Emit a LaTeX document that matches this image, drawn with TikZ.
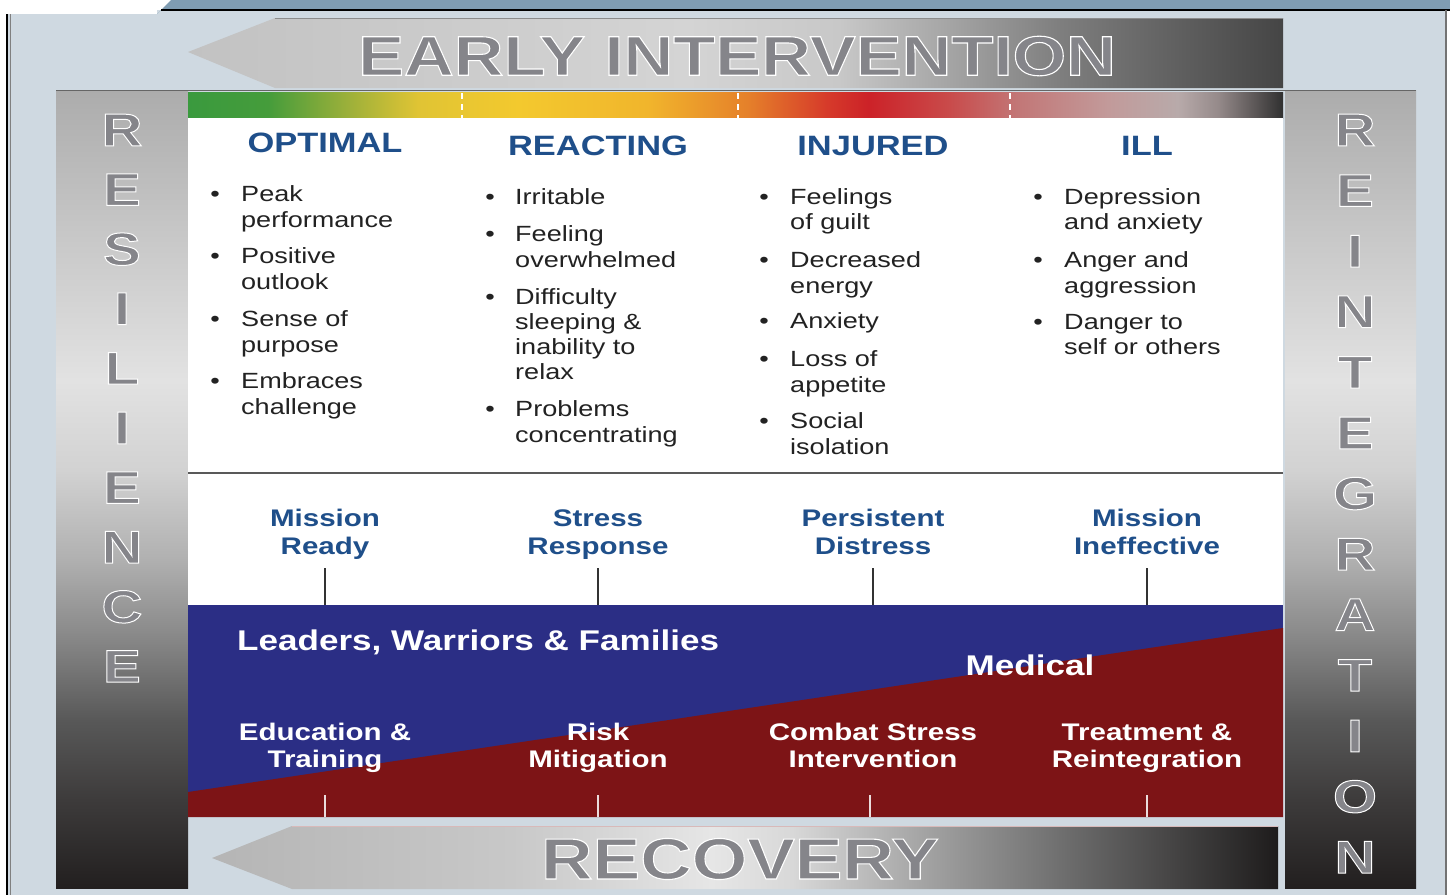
\documentclass[tikz,border=0pt]{standalone}
\usepackage{fontspec}
\setmainfont{Liberation Sans}[FakeStretch=1.23]
\definecolor{panel}{HTML}{CFD9E1}
\definecolor{steel}{HTML}{7F9CB2}
\definecolor{hdrblue}{HTML}{1F4F8A}
\definecolor{txt}{HTML}{222222}
\definecolor{navy}{HTML}{2B2E85}
\definecolor{maroon}{HTML}{7D1416}
\definecolor{lettergray}{HTML}{85858A}
% colour bar
\definecolor{cb0}{HTML}{3A9A3E}\definecolor{cb1}{HTML}{459C3B}\definecolor{cb2}{HTML}{9CB03A}
\definecolor{cb3}{HTML}{E0C434}\definecolor{cb4}{HTML}{F3C92E}\definecolor{cb5}{HTML}{F1B52C}
\definecolor{cb6}{HTML}{E5802A}\definecolor{cb7}{HTML}{D63A2A}\definecolor{cb8}{HTML}{CC2228}
\definecolor{cb9}{HTML}{C94A4A}\definecolor{cb10}{HTML}{C27777}\definecolor{cb11}{HTML}{C29A9A}
\definecolor{cb12}{HTML}{B8AAAA}\definecolor{cb13}{HTML}{958A8A}\definecolor{cb14}{HTML}{303030}
\pgfdeclarehorizontalshading{colorbar}{100bp}{color(0bp)=(cb0); color(25bp)=(cb0); color(28.65bp)=(cb1);
 color(32.3bp)=(cb2); color(35.5bp)=(cb3); color(40.07bp)=(cb4); color(46bp)=(cb5); color(50.57bp)=(cb6);
 color(54.2bp)=(cb7); color(56.05bp)=(cb8); color(59.7bp)=(cb9); color(62.9bp)=(cb10); color(67bp)=(cb11);
 color(70.2bp)=(cb12); color(72.03bp)=(cb13); color(75bp)=(cb14); color(100bp)=(cb14)}
% side bars
\definecolor{sb0}{HTML}{221F1F}\definecolor{sb1}{HTML}{3D3B3B}\definecolor{sb2}{HTML}{585858}
\definecolor{sb3}{HTML}{868686}\definecolor{sb4}{HTML}{B0B0B0}\definecolor{sb5}{HTML}{D2D2D2}
\definecolor{sb6}{HTML}{E2E2E2}\definecolor{sb7}{HTML}{CACACA}\definecolor{sb8}{HTML}{ACACAC}
\pgfdeclareverticalshading{sidebar}{100bp}{color(0bp)=(sb0); color(25bp)=(sb0); color(30.5bp)=(sb1);
 color(35.5bp)=(sb2); color(40.5bp)=(sb3); color(45.55bp)=(sb4); color(51.2bp)=(sb5); color(56.8bp)=(sb6);
 color(65bp)=(sb7); color(75bp)=(sb8); color(100bp)=(sb8)}
% top arrow
\definecolor{ta0}{HTML}{C2C2C2}\definecolor{ta1}{HTML}{D4D4D4}\definecolor{ta2}{HTML}{C8C8C8}
\definecolor{ta3}{HTML}{A5A5A5}\definecolor{ta4}{HTML}{7F7F7F}\definecolor{ta5}{HTML}{626262}
\definecolor{ta6}{HTML}{454545}
\pgfdeclarehorizontalshading{toparrow}{100bp}{color(0bp)=(ta0); color(25bp)=(ta0); color(47.8bp)=(ta1);
 color(54.7bp)=(ta2); color(59.7bp)=(ta3); color(64.7bp)=(ta4); color(69.75bp)=(ta5); color(75bp)=(ta6);
 color(100bp)=(ta6)}
% bottom arrow
\definecolor{ba0}{HTML}{B5B5B5}\definecolor{ba1}{HTML}{C8C8C8}\definecolor{ba2}{HTML}{E6E6E6}
\definecolor{ba3}{HTML}{D8D8D8}\definecolor{ba4}{HTML}{A0A0A0}\definecolor{ba5}{HTML}{6E6E6E}
\definecolor{ba6}{HTML}{1E1C1C}
\pgfdeclarehorizontalshading{botarrow}{100bp}{color(0bp)=(ba0); color(25bp)=(ba0); color(39.1bp)=(ba1);
 color(48.45bp)=(ba2); color(52.2bp)=(ba3); color(58.8bp)=(ba4); color(64.9bp)=(ba5); color(75bp)=(ba6);
 color(100bp)=(ba6)}

% gray letters with a white outline: text render mode 2 (fill, then stroke in white)
\newcommand\olt[2]{\special{pdf:literal direct 2 Tr #1 w 1 1 1 RG}#2}

\tikzset{
 body/.style={font=\fontsize{22}{25}\selectfont, text=txt, inner sep=0pt},
 hdr/.style={font=\fontsize{28}{30}\selectfont\bfseries, text=hdrblue, inner sep=0pt},
 midlbl/.style={font=\fontsize{24}{28}\selectfont\bfseries, text=hdrblue, inner sep=0pt},
 wlbl/.style={font=\fontsize{24}{28}\selectfont\bfseries, text=white, inner sep=0pt},
 wbig/.style={font=\fontsize{28.5}{30}\selectfont\bfseries, text=white, inner sep=0pt},
 sideletter/.style={font=\fontsize{46}{46}\selectfont\bfseries, text=lettergray, inner sep=0pt},
 bigtxt/.style={font=\fontsize{56}{60}\selectfont\bfseries, text=lettergray, inner sep=0pt},
 recovtxt/.style={font=\fontsize{58}{60}\selectfont\bfseries, text=lettergray, inner sep=0pt},
 darktick/.style={line width=2.5pt, draw=black!80},
 lighttick/.style={line width=2pt, draw=white!85!maroon},
}

\begin{document}
\begin{tikzpicture}[x=1pt,y=-1pt]
\useasboundingbox (0,0) rectangle (1450,895);
% frame
\fill[white] (0,0) rectangle (1450,895);
\fill[panel] (8,10) rectangle (1446,895);
\fill[white] (0,0) rectangle (157,14);
\fill[steel] (157,14) -- (171,0) -- (1450,0) -- (1450,10) -- (161,10) -- cycle;
\draw[black, line width=2pt] (161,10) -- (1450,10);
\draw[black, line width=1.2pt] (7,14) -- (7,895);
\draw[black!50, line width=1pt] (10,14) -- (10,895);
\draw[black!55, line width=1.5pt] (1446,10) -- (1446,895);

% top arrow
\path[shading=toparrow] (188,52) -- (275,18) -- (1283,18) -- (1283,88) -- (275,88) -- cycle;
\draw[black!45, line width=1pt] (275,18) -- (1283,18);
\node[bigtxt] (early) at (737,56) {\olt{1.1}{EARLY INTERVENTION}};

% side bars
\path[shading=sidebar] (56,90) rectangle (188,888);
\path[shading=sidebar] (1285,90) rectangle (1416,888);
\draw[black!60, line width=1pt] (56,90) -- (1416,90);
\foreach \L [count=\i] in {R,E,S,I,L,I,E,N,C,E}
 {\node[sideletter] (res\i) at (122,{130+59.6*(\i-1)}) {\olt{1}{\L}};}
\foreach \L [count=\i] in {R,E,I,N,T,E,G,R,A,T,I,O,N}
 {\node[sideletter] (rei\i) at (1355,{130+60.6*(\i-1)}) {\olt{1}{\L}};}

% colour bar
\path[shading=colorbar] (188,92) rectangle (1283,118);
\foreach \px in {462,738,1010}{\draw[white, line width=2pt, dash pattern=on 6pt off 5pt] (\px,93) -- (\px,118);}

% white panel
\fill[white] (188,118) rectangle (1283,605);
\draw[black!65, line width=1.5pt] (188,473) -- (1283,473);

\node[hdr] (h1) at (325,143) {OPTIMAL};
\node[hdr] (h2) at (598,146) {REACTING};
\node[hdr] (h3) at (873,146) {INJURED};
\node[hdr] (h4) at (1147,146) {ILL};

\foreach \px/\py/\tx [count=\i] in {
 241/201/Peak, 241/227/performance, 241/263/Positive, 241/289/outlook, 241/326/Sense of, 241/352/purpose,
 241/388/Embraces, 241/414/challenge,
 515/204/Irritable, 515/241/Feeling, 515/267/overwhelmed, 515/304/Difficulty, 515/329/sleeping \&,
 515/354/inability to, 515/379/relax, 515/416/Problems, 515/442/concentrating,
 790/204/Feelings, 790/229/of guilt, 790/267/Decreased, 790/293/energy, 790/328/Anxiety, 790/366/Loss of,
 790/392/appetite, 790/428/Social, 790/454/isolation,
 1064/204/Depression, 1064/229/and anxiety, 1064/267/Anger and, 1064/293/aggression, 1064/329/Danger to,
 1064/354/self or others}
 {\node[body, anchor=base west] (line\i) at (\px,\py) {\tx};}
\foreach \px/\py [count=\i] in {215/201, 215/263, 215/326, 215/388, 490/204, 490/241, 490/304, 490/416,
 764/204, 764/267, 764/328, 764/366, 764/428, 1038/204, 1038/267, 1038/329}
 {\node[body, anchor=base] (bul\i) at (\px,\py) {\textbullet};}

% stage labels
\foreach \px/\ta/\tb [count=\i] in {325/Mission/Ready, 598/Stress/Response, 873/Persistent/Distress, 1147/Mission/Ineffective}{
 \node[midlbl, anchor=base] (st\i a) at (\px,526) {\ta};
 \node[midlbl, anchor=base] (st\i b) at (\px,554) {\tb};
 \coordinate (mt\i) at (\px,568);
 \coordinate (mb\i) at (\px,605);
 \draw[darktick] (mt\i) -- (mb\i);
}

% blue / red band
\fill[navy] (188,605) rectangle (1283,817);
\fill[maroon] (188,792) -- (1283,628) -- (1283,817) -- (188,817) -- cycle;
\node[wbig, anchor=base west] (lwf) at (237,650) {Leaders, Warriors \& Families};
\node[wbig, anchor=base] (med) at (1030,675) {Medical};
\foreach \px/\ta/\tb [count=\i] in {325/Education \&/Training, 598/Risk/Mitigation, 873/Combat Stress/Intervention, 1147/Treatment \&/Reintegration}{
 \node[wlbl, anchor=base] (ac\i a) at (\px,740) {\ta};
 \node[wlbl, anchor=base] (ac\i b) at (\px,767) {\tb};
}
\foreach \px [count=\i] in {325,598,870,1147}{
 \coordinate (lt\i) at (\px,795);
 \coordinate (lb\i) at (\px,817);
 \draw[lighttick] (lt\i) -- (lb\i);
}

% bottom arrow
\path[shading=botarrow] (212,858) -- (292,826) -- (1278,826) -- (1278,889) -- (292,889) -- cycle;
\draw[white!70!maroon, line width=0.8pt] (292,826) -- (1278,826);
\node[recovtxt] (recovery) at (740,859) {\olt{1.1}{RECOVERY}};
\end{tikzpicture}
\end{document}
